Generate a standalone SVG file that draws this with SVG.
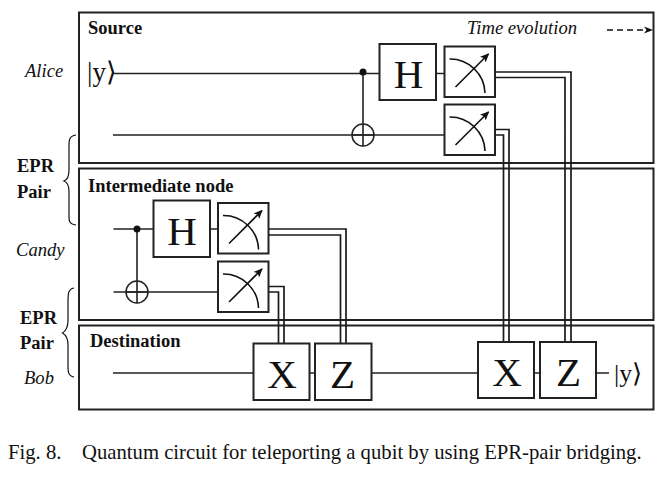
<svg xmlns="http://www.w3.org/2000/svg" xmlns:xlink="http://www.w3.org/1999/xlink" width="671" height="478" viewBox="0 0 671 478">
<style>
text{font-family:"Liberation Serif","Times New Roman",serif;fill:#111}
.b{font-weight:bold;font-size:18.500px}
.i{font-style:italic;font-size:18.600px}
.g{font-size:41px;text-anchor:middle}
.frame{fill:none;stroke:#222;stroke-width:2}
.box{fill:#fff;stroke:#222;stroke-width:2}
.w{fill:none;stroke:#222;stroke-width:1.600}
.d{fill:none;stroke:#1a1a1a;stroke-width:1.700}
.t{fill:none;stroke:#111;stroke-width:1.600}
</style>
<defs>
<marker id="ah" markerWidth="9" markerHeight="8" refX="8" refY="4" orient="auto" markerUnits="userSpaceOnUse"><path d="M0 0L9 4L0 8L2 4Z" fill="#111"/></marker>
<g id="meter"><rect class="box" width="50.500" height="50.500"/><path class="t" d="M5 12.500A35 35 0 0 1 40.500 46.500"/><path class="t" d="M11 40.500L44 7.500" marker-end="url(#ah)"/></g>
</defs>
<rect width="671" height="478" fill="#fff"/>
<g id="frames">
<rect id="source" class="frame" x="79" y="12.500" width="574.500" height="150.500"/>
<rect id="intermediate" class="frame" x="79" y="168.500" width="574.500" height="151.500"/>
<rect id="destination" class="frame" x="79" y="325.500" width="574.500" height="84"/>
</g>
<g id="connectors">
<path class="w" d="M113 73.500H380M436 73.500H445M113 135H445M363 72V124"/>
<path class="w" d="M113.500 229H154M210 229H218M113.500 292H218M137 229V281"/>
<path class="w" d="M113 373H254M309.500 373H315M371.500 373H478M534 373H540M596 373H609"/>
<path class="d" d="M495 72H571V342M495 77.500H565V342M495 129.500H509V342M495 135H503.500V342"/>
<path class="d" d="M269 229H346V344M269 235H340.500V344M269 286.500H284V344M269 292H278.500V344"/>
<path d="M607 30H646" fill="none" stroke="#111" stroke-width="1.400" stroke-dasharray="6 4"/>
<path d="M644 26.500L653 30L644 33.500L646.500 30Z" fill="#111"/>
<path fill="none" stroke="#111" stroke-width="1.200" d="M76 135C68 136 69 142 69 150V170C69 177 67 180 64 181C67 182 69 185 69 192V212C69 220 68 224 76 225"/>
<path fill="none" stroke="#111" stroke-width="1.200" d="M74 288C68 289 68 294 68 302V320C68 328 66 331 62.500 333C66 335 68 338 68 345V364C68 372 68 376 74 377"/>
</g>
<g id="cnot1"><circle cx="363" cy="72" r="3.500" fill="#111"/><circle cx="363" cy="135" r="11" fill="none" stroke="#222" stroke-width="1.500"/><path class="w" d="M352 135H374M363 124V146"/></g>
<g id="cnot2"><circle cx="137" cy="229" r="3.500" fill="#111"/><circle cx="137" cy="292" r="11" fill="none" stroke="#222" stroke-width="1.500"/><path class="w" d="M126 292H148M137 281V303"/></g>
<g id="h1"><rect class="box" x="379.500" y="44" width="56.500" height="56"/><text class="g" x="408.500" y="88">H</text></g>
<g id="h2"><rect class="box" x="153.500" y="200.500" width="56.500" height="56.500"/><text class="g" x="182" y="245">H</text></g>
<g id="m1"><use href="#meter" x="444.500" y="46.500"/></g>
<g id="m2"><use href="#meter" x="444.500" y="104.500"/></g>
<g id="m3"><use href="#meter" x="218" y="203"/></g>
<g id="m4"><use href="#meter" x="218" y="261.500"/></g>
<g id="x1"><rect class="box" x="253.500" y="343.500" width="56" height="56.500"/><text class="g" x="282" y="388">X</text></g>
<g id="z1"><rect class="box" x="315" y="343.500" width="56.500" height="56.500"/><text class="g" x="342.500" y="388">Z</text></g>
<g id="x2"><rect class="box" x="478" y="342" width="56" height="56"/><text class="g" x="507" y="386">X</text></g>
<g id="z2"><rect class="box" x="540" y="342" width="56" height="56"/><text class="g" x="568.500" y="386">Z</text></g>
<g id="labels">
<text class="b" x="88" y="34">Source</text>
<text class="b" x="88" y="192">Intermediate node</text>
<text class="b" x="90" y="347">Destination</text>
<text class="i" x="467" y="34">Time evolution</text>
<text class="i" x="25" y="77">Alice</text>
<text class="i" x="16" y="256">Candy</text>
<text class="i" x="24" y="384">Bob</text>
<text class="b" x="17" y="172">EPR</text>
<text class="b" x="17" y="198">Pair</text>
<text class="b" x="20" y="324">EPR</text>
<text class="b" x="20" y="349">Pair</text>
<text x="87" y="81" font-size="27">|y⟩</text>
<text x="614" y="382" font-size="26">|y⟩</text>
<text x="8" y="458.500" font-size="20.700">Fig. 8.<tspan x="82">Quantum circuit for teleporting a qubit by using EPR-pair bridging.</tspan></text>
</g>
</svg>
